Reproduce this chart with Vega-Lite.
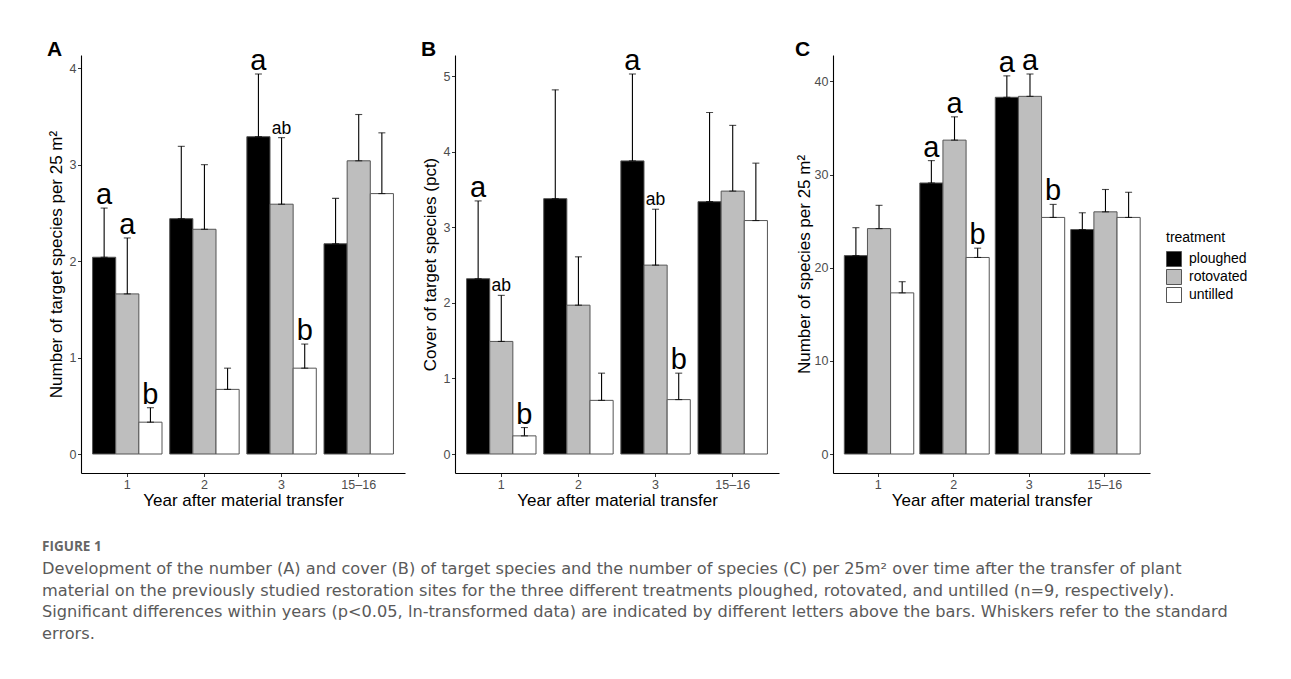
{
  "$schema": "https://vega.github.io/schema/vega-lite/v6.json",
  "padding": {"left": 42, "top": 38, "right": 5, "bottom": 5},
  "background": "white",
  "title": {
    "text": "FIGURE 1",
    "subtitle": [
      "Development of the number (A) and cover (B) of target species and the number of species (C) per 25m² over time after the transfer of plant",
      "material on the previously studied restoration sites for the three different treatments ploughed, rotovated, and untilled (n=9, respectively).",
      "Significant differences within years (p<0.05, ln-transformed data) are indicated by different letters above the bars. Whiskers refer to the standard",
      "errors."
    ],
    "orient": "bottom",
    "anchor": "start",
    "frame": "bounds",
    "offset": 31,
    "dx": -5,
    "font": "Open Sans",
    "fontSize": 13.5,
    "fontWeight": "bold",
    "color": "#666666",
    "subtitleFont": "DejaVu Sans",
    "subtitleFontSize": 16.2,
    "subtitleColor": "#5a5a5a",
    "subtitleLineHeight": 21.5,
    "subtitlePadding": 8
  },
  "datasets": {
    "d": [
      {"panel": "A", "year": "1", "treatment": "ploughed", "mean": 2.04, "upper": 2.55, "letter": "a"},
      {"panel": "A", "year": "1", "treatment": "rotovated", "mean": 1.66, "upper": 2.24, "letter": "a"},
      {"panel": "A", "year": "1", "treatment": "untilled", "mean": 0.33, "upper": 0.48, "letter": "b"},
      {"panel": "A", "year": "2", "treatment": "ploughed", "mean": 2.44, "upper": 3.19, "letter": ""},
      {"panel": "A", "year": "2", "treatment": "rotovated", "mean": 2.33, "upper": 3.0, "letter": ""},
      {"panel": "A", "year": "2", "treatment": "untilled", "mean": 0.67, "upper": 0.89, "letter": ""},
      {"panel": "A", "year": "3", "treatment": "ploughed", "mean": 3.29, "upper": 3.94, "letter": "a"},
      {"panel": "A", "year": "3", "treatment": "rotovated", "mean": 2.59, "upper": 3.28, "letter": "ab"},
      {"panel": "A", "year": "3", "treatment": "untilled", "mean": 0.89, "upper": 1.14, "letter": "b"},
      {"panel": "A", "year": "15–16", "treatment": "ploughed", "mean": 2.18, "upper": 2.65, "letter": ""},
      {"panel": "A", "year": "15–16", "treatment": "rotovated", "mean": 3.04, "upper": 3.52, "letter": ""},
      {"panel": "A", "year": "15–16", "treatment": "untilled", "mean": 2.7, "upper": 3.33, "letter": ""},
      {"panel": "B", "year": "1", "treatment": "ploughed", "mean": 2.32, "upper": 3.35, "letter": "a"},
      {"panel": "B", "year": "1", "treatment": "rotovated", "mean": 1.49, "upper": 2.1, "letter": "ab"},
      {"panel": "B", "year": "1", "treatment": "untilled", "mean": 0.24, "upper": 0.35, "letter": "b"},
      {"panel": "B", "year": "2", "treatment": "ploughed", "mean": 3.38, "upper": 4.82, "letter": ""},
      {"panel": "B", "year": "2", "treatment": "rotovated", "mean": 1.97, "upper": 2.61, "letter": ""},
      {"panel": "B", "year": "2", "treatment": "untilled", "mean": 0.71, "upper": 1.07, "letter": ""},
      {"panel": "B", "year": "3", "treatment": "ploughed", "mean": 3.88, "upper": 5.03, "letter": "a"},
      {"panel": "B", "year": "3", "treatment": "rotovated", "mean": 2.5, "upper": 3.24, "letter": "ab"},
      {"panel": "B", "year": "3", "treatment": "untilled", "mean": 0.72, "upper": 1.07, "letter": "b"},
      {"panel": "B", "year": "15–16", "treatment": "ploughed", "mean": 3.34, "upper": 4.52, "letter": ""},
      {"panel": "B", "year": "15–16", "treatment": "rotovated", "mean": 3.48, "upper": 4.35, "letter": ""},
      {"panel": "B", "year": "15–16", "treatment": "untilled", "mean": 3.09, "upper": 3.85, "letter": ""},
      {"panel": "C", "year": "1", "treatment": "ploughed", "mean": 21.3, "upper": 24.3, "letter": ""},
      {"panel": "C", "year": "1", "treatment": "rotovated", "mean": 24.2, "upper": 26.7, "letter": ""},
      {"panel": "C", "year": "1", "treatment": "untilled", "mean": 17.3, "upper": 18.5, "letter": ""},
      {"panel": "C", "year": "2", "treatment": "ploughed", "mean": 29.1, "upper": 31.5, "letter": "a"},
      {"panel": "C", "year": "2", "treatment": "rotovated", "mean": 33.7, "upper": 36.2, "letter": "a"},
      {"panel": "C", "year": "2", "treatment": "untilled", "mean": 21.1, "upper": 22.1, "letter": "b"},
      {"panel": "C", "year": "3", "treatment": "ploughed", "mean": 38.3, "upper": 40.6, "letter": "a"},
      {"panel": "C", "year": "3", "treatment": "rotovated", "mean": 38.4, "upper": 40.8, "letter": "a"},
      {"panel": "C", "year": "3", "treatment": "untilled", "mean": 25.4, "upper": 26.8, "letter": "b"},
      {"panel": "C", "year": "15–16", "treatment": "ploughed", "mean": 24.1, "upper": 25.9, "letter": ""},
      {"panel": "C", "year": "15–16", "treatment": "rotovated", "mean": 26.0, "upper": 28.4, "letter": ""},
      {"panel": "C", "year": "15–16", "treatment": "untilled", "mean": 25.4, "upper": 28.1, "letter": ""}
    ]
  },
  "spacing": 16,
  "resolve": {"legend": {"fill": "independent"}},
  "hconcat": [
    {
      "width": 324, "height": 418,
      "data": {"name": "d"},
      "transform": [{"filter": "datum.panel == 'A'"}],
      "title": {"text": "A", "anchor": "start", "frame": "bounds", "offset": -13, "font": "Liberation Sans", "fontSize": 21, "fontWeight": "bold", "color": "black"},
      "encoding": {
        "x": {"field": "year", "type": "nominal", "sort": ["1", "2", "3", "15–16"], "scale": {"paddingInner": 0.1, "paddingOuter": 0.15}, "axis": {"title": "Year after material transfer"}},
        "xOffset": {"field": "treatment", "type": "nominal", "sort": ["ploughed", "rotovated", "untilled"], "scale": {"paddingInner": 0, "paddingOuter": 0}},
        "y": {"type": "quantitative", "scale": {"domain": [-0.197, 4.137], "nice": false, "zero": false}, "axis": {"title": "Number of target species per 25 m²", "values": [0, 1, 2, 3, 4]}}
      },
      "layer": [
        {"mark": {"type": "bar", "stroke": "#555555", "strokeWidth": 1}, "encoding": {"y": {"field": "mean", "type": "quantitative"}, "fill": {"field": "treatment", "type": "nominal", "scale": {"domain": ["ploughed", "rotovated", "untilled"], "range": ["#000000", "#BEBEBE", "#FFFFFF"]}, "legend": null}}},
        {"mark": {"type": "rule", "color": "black", "strokeWidth": 1.1}, "encoding": {"y": {"field": "mean", "type": "quantitative"}, "y2": {"field": "upper"}}},
        {"mark": {"type": "tick", "color": "black", "size": 7, "thickness": 1.1}, "encoding": {"y": {"field": "upper", "type": "quantitative"}}},
        {"mark": {"type": "tick", "color": "black", "size": 7, "thickness": 1.1}, "encoding": {"y": {"field": "mean", "type": "quantitative"}}},
        {"transform": [{"filter": "datum.letter != ''"}], "mark": {"type": "text", "baseline": "alphabetic", "dy": -4, "font": "Liberation Sans", "color": "black"}, "encoding": {"y": {"field": "upper", "type": "quantitative"}, "text": {"field": "letter"}, "size": {"condition": {"test": "datum.letter == 'ab'", "value": 17.5}, "value": 29}}}
      ]
    },
    {
      "width": 324, "height": 418,
      "data": {"name": "d"},
      "transform": [{"filter": "datum.panel == 'B'"}],
      "title": {"text": "B", "anchor": "start", "frame": "bounds", "offset": -13, "font": "Liberation Sans", "fontSize": 21, "fontWeight": "bold", "color": "black"},
      "encoding": {
        "x": {"field": "year", "type": "nominal", "sort": ["1", "2", "3", "15–16"], "scale": {"paddingInner": 0.1, "paddingOuter": 0.15}, "axis": {"title": "Year after material transfer"}},
        "xOffset": {"field": "treatment", "type": "nominal", "sort": ["ploughed", "rotovated", "untilled"], "scale": {"paddingInner": 0, "paddingOuter": 0}},
        "y": {"type": "quantitative", "scale": {"domain": [-0.2515, 5.2815], "nice": false, "zero": false}, "axis": {"title": "Cover of target species (pct)", "values": [0, 1, 2, 3, 4, 5]}}
      },
      "layer": [
        {"mark": {"type": "bar", "stroke": "#555555", "strokeWidth": 1}, "encoding": {"y": {"field": "mean", "type": "quantitative"}, "fill": {"field": "treatment", "type": "nominal", "scale": {"domain": ["ploughed", "rotovated", "untilled"], "range": ["#000000", "#BEBEBE", "#FFFFFF"]}, "legend": null}}},
        {"mark": {"type": "rule", "color": "black", "strokeWidth": 1.1}, "encoding": {"y": {"field": "mean", "type": "quantitative"}, "y2": {"field": "upper"}}},
        {"mark": {"type": "tick", "color": "black", "size": 7, "thickness": 1.1}, "encoding": {"y": {"field": "upper", "type": "quantitative"}}},
        {"mark": {"type": "tick", "color": "black", "size": 7, "thickness": 1.1}, "encoding": {"y": {"field": "mean", "type": "quantitative"}}},
        {"transform": [{"filter": "datum.letter != ''"}], "mark": {"type": "text", "baseline": "alphabetic", "dy": -4, "font": "Liberation Sans", "color": "black"}, "encoding": {"y": {"field": "upper", "type": "quantitative"}, "text": {"field": "letter"}, "size": {"condition": {"test": "datum.letter == 'ab'", "value": 17.5}, "value": 29}}}
      ]
    },
    {
      "width": 317, "height": 418,
      "data": {"name": "d"},
      "transform": [{"filter": "datum.panel == 'C'"}],
      "title": {"text": "C", "anchor": "start", "frame": "bounds", "offset": -13, "font": "Liberation Sans", "fontSize": 21, "fontWeight": "bold", "color": "black"},
      "encoding": {
        "x": {"field": "year", "type": "nominal", "sort": ["1", "2", "3", "15–16"], "scale": {"paddingInner": 0.1, "paddingOuter": 0.15}, "axis": {"title": "Year after material transfer"}},
        "xOffset": {"field": "treatment", "type": "nominal", "sort": ["ploughed", "rotovated", "untilled"], "scale": {"paddingInner": 0, "paddingOuter": 0}},
        "y": {"type": "quantitative", "scale": {"domain": [-2.04, 42.84], "nice": false, "zero": false}, "axis": {"title": "Number of species per 25 m²", "values": [0, 10, 20, 30, 40], "titlePadding": 1}}
      },
      "layer": [
        {"mark": {"type": "bar", "stroke": "#555555", "strokeWidth": 1}, "encoding": {"y": {"field": "mean", "type": "quantitative"}, "fill": {"field": "treatment", "type": "nominal", "scale": {"domain": ["ploughed", "rotovated", "untilled"], "range": ["#000000", "#BEBEBE", "#FFFFFF"]}, "legend": {"title": "treatment", "orient": "none", "legendX": 333, "legendY": 176, "symbolType": "square", "symbolSize": 225, "symbolStrokeColor": "#555555", "symbolStrokeWidth": 1, "rowPadding": -6, "labelOffset": 7, "titlePadding": 6}}}},
        {"mark": {"type": "rule", "color": "black", "strokeWidth": 1.1}, "encoding": {"y": {"field": "mean", "type": "quantitative"}, "y2": {"field": "upper"}}},
        {"mark": {"type": "tick", "color": "black", "size": 7, "thickness": 1.1}, "encoding": {"y": {"field": "upper", "type": "quantitative"}}},
        {"mark": {"type": "tick", "color": "black", "size": 7, "thickness": 1.1}, "encoding": {"y": {"field": "mean", "type": "quantitative"}}},
        {"transform": [{"filter": "datum.letter != ''"}], "mark": {"type": "text", "baseline": "alphabetic", "dy": -4, "font": "Liberation Sans", "color": "black"}, "encoding": {"y": {"field": "upper", "type": "quantitative"}, "text": {"field": "letter"}, "size": {"condition": {"test": "datum.letter == 'ab'", "value": 17.5}, "value": 29}}}
      ]
    }
  ],
  "config": {
    "view": {"stroke": null},
    "font": "Liberation Sans",
    "axis": {"labelFont": "Liberation Sans", "titleFont": "Liberation Sans", "labelFontSize": 12.5, "titleFontSize": 17, "titleFontWeight": "normal", "labelColor": "#4d4d4d", "titleColor": "black", "domainColor": "black", "domainWidth": 1.1, "tickColor": "#333333", "tickSize": 3.5, "tickWidth": 1, "grid": false, "labelPadding": 1.5},
    "axisX": {"labelAngle": 0, "titlePadding": 2},
    "axisY": {"titlePadding": 4},
    "legend": {"labelFont": "Liberation Sans", "titleFont": "Liberation Sans", "labelFontSize": 14, "titleFontSize": 14, "titleFontWeight": "normal", "labelColor": "black", "titleColor": "black"}
  }
}
